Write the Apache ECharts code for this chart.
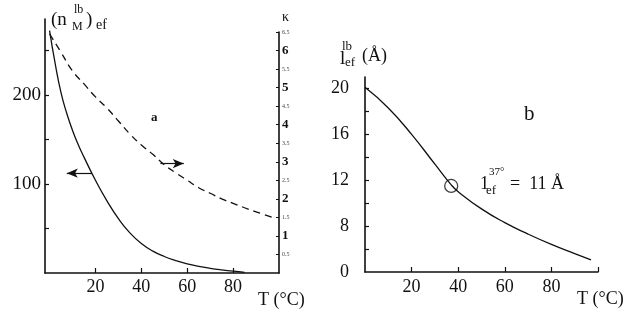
<!DOCTYPE html>
<html>
<head>
<meta charset="utf-8">
<script src="https://cdn.jsdelivr.net/npm/echarts@6/dist/echarts.min.js"></script>
<style>html,body{margin:0;padding:0;background:#fff}#c{width:639px;height:321px}</style>
</head>
<body>
<div id="c"></div>
<script>
// Panel a: effective number (solid, left axis) and kappa (dashed, right axis) vs T
const tempsN = [0,2.5,5,7.5,10,12.5,15,20,25,30,35,40,45,50,55,60,65,70,75,80,85];
const nEff   = [272,234,202,179,160,144,130,104,81,61,45,33,24.5,18.5,14,10.3,7.5,5.3,3.5,2.0,0.8];
const tempsK = [0,5,10,15,20,25,30,35,40,45,50,55,60,65,70,75,80,85,90,97];
const kappa  = [6.45,5.95,5.45,5.1,4.75,4.45,4.1,3.75,3.45,3.2,2.92,2.7,2.5,2.3,2.15,2.0,1.88,1.76,1.65,1.5];
// Panel b: effective length vs T
const tempsL = [0,10,20,30,37,40,50,60,70,80,90,97];
const lEff   = [20.1,18.3,16.0,13.4,11.6,11.0,9.5,8.3,7.3,6.4,5.6,5.05];
const markerPoint = [37, 11.5];
// Tick labels
const xTicksA = [20,40,60,80];
const nTickLabels = [100,200];
const nTicks = [50,100,150,200,250];
const kappaTicks = [0.5,1,1.5,2,2.5,3,3.5,4,4.5,5,5.5,6,6.5];
const xTicksB = [20,40,60,80];
const lTickValues = [4,8,12,16,20];
const lTickText = ['0','8','12','16','20'];
const lMinorTicks = [6,8,10,12,14,16,18,20];

const SERIF = "'Liberation Serif','Times New Roman',serif";
const INK = '#111';
const chart = echarts.init(document.getElementById('c'), null, {renderer:'canvas'});

function zip(xs, ys){ return xs.map((x,i)=>[x, ys[i]]); }

const axisLineStyle = {show:true, onZero:false, lineStyle:{color:INK, width:1.6}};
function txt(text, x, y, size, extra){
  return {type:'text', left:x, top:y, style:Object.assign({text:text, fontFamily:SERIF, fontSize:size, fill:INK}, extra||{})};
}

chart.setOption({
  animation:false,
  backgroundColor:'#fff',
  grid:[
    {left:45, top:19, width:234, height:254},
    {left:45, top:32, width:234, height:241},
    {left:365, top:77, width:233, height:195}
  ],
  xAxis:[
    {gridIndex:0, type:'value', min:-2, max:100, axisLine:axisLineStyle, splitLine:{show:false},
      axisTick:{show:true, inside:true, length:5, customValues:xTicksA, lineStyle:{color:INK,width:1.2}},
      axisLabel:{customValues:xTicksA, fontFamily:SERIF, fontSize:18, color:INK, margin:5}},
    {gridIndex:1, type:'value', min:-2, max:100, show:false},
    {gridIndex:2, type:'value', min:0, max:100, axisLine:axisLineStyle, splitLine:{show:false},
      axisTick:{show:true, inside:true, length:5, customValues:[20,40,60,80,100], lineStyle:{color:INK,width:1.2}},
      axisLabel:{customValues:xTicksB, fontFamily:SERIF, fontSize:18, color:INK, margin:6}}
  ],
  yAxis:[
    {gridIndex:0, type:'value', min:0, max:285, axisLine:axisLineStyle, splitLine:{show:false},
      axisTick:{show:true, inside:true, length:4, customValues:nTicks, lineStyle:{color:INK,width:1.2}},
      axisLabel:{customValues:nTickLabels, fontFamily:SERIF, fontSize:19, color:INK, margin:4}},
    {gridIndex:1, type:'value', position:'right', min:0, max:6.5, axisLine:axisLineStyle, splitLine:{show:false},
      axisTick:{show:true, inside:true, length:3, customValues:kappaTicks, lineStyle:{color:INK,width:1}},
      axisLabel:{customValues:kappaTicks, margin:3, fontFamily:SERIF,
        formatter:function(v){ return Number.isInteger(v) ? '{b|'+v+'}' : '{s|'+v+'}'; },
        rich:{b:{fontFamily:SERIF, fontSize:13, fontWeight:'bold', color:INK}, s:{fontFamily:SERIF, fontSize:6, color:'#444'}}}},
    {gridIndex:2, type:'value', min:4, max:21, axisLine:axisLineStyle, splitLine:{show:false},
      axisTick:{show:true, inside:true, length:4, customValues:lMinorTicks, lineStyle:{color:INK,width:1.2}},
      axisLabel:{customValues:lTickValues, fontFamily:SERIF, fontSize:18, color:INK, margin:16,
        formatter:function(v){ const i = lTickValues.indexOf(v); return i>=0 ? lTickText[i] : ''; }}}
  ],
  series:[
    {type:'line', xAxisIndex:0, yAxisIndex:0, data:zip(tempsN,nEff), smooth:0.5, showSymbol:false,
      lineStyle:{color:INK, width:1.3},
      markLine:{silent:true, symbol:['none','arrow'], symbolSize:[7,11],
        lineStyle:{color:INK, width:1.2, type:'solid'}, label:{show:false},
        data:[[{coord:[18.5,112]},{coord:[7.5,112]}]]}},
    {type:'line', xAxisIndex:1, yAxisIndex:1, data:zip(tempsK,kappa), smooth:0.5, showSymbol:false,
      lineStyle:{color:INK, width:1.3, type:[7,5]},
      markLine:{silent:true, symbol:['none','arrow'], symbolSize:[7,11],
        lineStyle:{color:INK, width:1.2, type:'solid'}, label:{show:false},
        data:[[{coord:[48.3,2.95]},{coord:[58.5,2.95]}]]}},
    {type:'line', xAxisIndex:2, yAxisIndex:2, data:zip(tempsL,lEff), smooth:0.5, showSymbol:false,
      lineStyle:{color:INK, width:1.3}},
    {type:'scatter', xAxisIndex:2, yAxisIndex:2, data:[markerPoint], symbol:'circle', symbolSize:13,
      itemStyle:{color:'rgba(0,0,0,0)', borderColor:INK, borderWidth:1.3}}
  ],
  graphic:[
    txt('(n', 51, 11, 19),
    txt('lb', 74, 4, 12),
    txt('M', 72, 21, 12),
    txt(')', 86, 11, 19),
    txt('ef', 96, 18, 14),
    txt('\u03ba', 282, 10, 14),
    txt('a', 151, 111, 13, {fontWeight:'bold'}),
    txt('T (\u00b0C)', 258, 291, 18),
    txt('lb', 342, 40, 13),
    txt('l', 340, 50, 19),
    txt('ef', 345, 56, 13),
    txt('(\u00c5)', 362, 47, 18),
    txt('b', 524, 104, 21),
    txt('1', 480, 175, 18),
    txt('37\u00b0', 489, 167, 11),
    txt('ef', 486, 184, 13),
    txt('=  11 \u00c5', 510, 175, 18),
    txt('T (\u00b0C)', 577, 290, 18)
  ]
});
</script>
</body>
</html>
